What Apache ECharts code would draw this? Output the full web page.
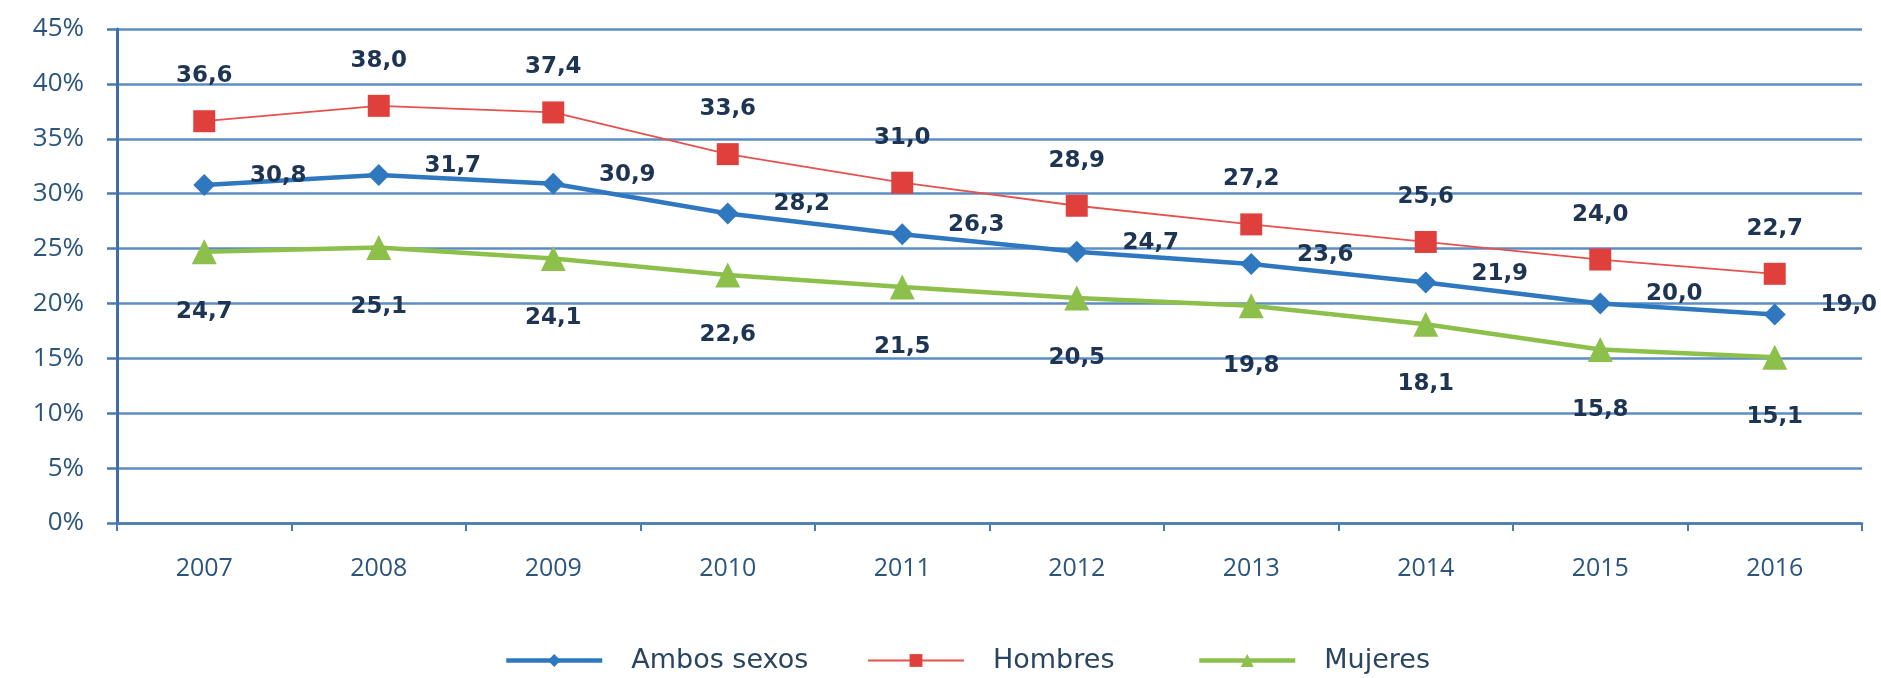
<!DOCTYPE html>
<html><head><meta charset="utf-8">
<script src="https://cdn.jsdelivr.net/npm/echarts@6/dist/echarts.min.js"></script>
<style>html,body{margin:0;padding:0;background:#fff}#c{width:1881px;height:678px}</style>
</head><body><div id="c"></div>
<script>
const categories = ['2007','2008','2009','2010','2011','2012','2013','2014','2015','2016'];
const ambos = [30.8, 31.7, 30.9, 28.2, 26.3, 24.7, 23.6, 21.9, 20.0, 19.0];
const hombres = [36.6, 38.0, 37.4, 33.6, 31.0, 28.9, 27.2, 25.6, 24.0, 22.7];
const mujeres = [24.7, 25.1, 24.1, 22.6, 21.5, 20.5, 19.8, 18.1, 15.8, 15.1];
const seriesNames = ['Ambos sexos', 'Hombres', 'Mujeres'];

const labelColor = '#1d3553';
const axisTextColor = '#2b557c';
const fmt = p => p.value.toFixed(1).replace('.', ',');
const lbl = (offset) => ({
  show: true, position: 'inside', offset: offset, formatter: fmt,
  fontFamily: 'DejaVu Sans', fontWeight: 'bold', fontSize: 23, color: labelColor
});

const chart = echarts.init(document.getElementById('c'));
const legendBase = {
  top: 642, itemWidth: 96, itemHeight: 16,
  textStyle: {fontFamily: 'DejaVu Sans', fontSize: 27, color: '#2a4560', padding: [0,0,0,24]}
};
chart.setOption({
  animation: false,
  backgroundColor: '#ffffff',
  grid: {left: 117, right: 19, top: 29, bottom: 155, containLabel: false},
  legend: [
    Object.assign({}, legendBase, {left: 499, data: [seriesNames[0]], lineStyle: {width: 4.5}}),
    Object.assign({}, legendBase, {left: 862, data: [seriesNames[1]], lineStyle: {width: 2}}),
    Object.assign({}, legendBase, {left: 1192, data: [seriesNames[2]], lineStyle: {width: 4.5}})
  ],
  xAxis: {
    type: 'category', data: categories, boundaryGap: true,
    axisLine: {lineStyle: {color: '#4a7bb0', width: 2.5}},
    axisTick: {show: true, length: 8, lineStyle: {color: '#4a7bb0', width: 2}},
    axisLabel: {margin: 33, fontFamily: 'Open Sans', fontSize: 25, color: axisTextColor}
  },
  yAxis: {
    type: 'value', min: 0, max: 45, interval: 5,
    axisLine: {show: true, lineStyle: {color: '#3f70a5', width: 3}},
    axisTick: {show: true, length: 10, lineStyle: {color: '#4a7bb0', width: 2.5}},
    axisLabel: {margin: 33, formatter: '{value}%', fontFamily: 'Open Sans', fontSize: 26, color: axisTextColor},
    splitLine: {lineStyle: {color: '#5b8cc4', width: 2.5}}
  },
  series: [
    {
      name: seriesNames[0], type: 'line', data: ambos, z: 4,
      symbol: 'diamond', symbolSize: 22,
      itemStyle: {color: '#2f78bf'}, lineStyle: {color: '#2f78bf', width: 4.5},
      label: lbl([74, -9])
    },
    {
      name: seriesNames[1], type: 'line', data: hombres, z: 3,
      symbol: 'rect', symbolSize: 22,
      itemStyle: {color: '#e0403c'}, lineStyle: {color: '#e5514d', width: 1.8},
      label: lbl([0, -45])
    },
    {
      name: seriesNames[2], type: 'line', data: mujeres, z: 3,
      symbol: 'triangle', symbolSize: 25,
      itemStyle: {color: '#8cc04a'}, lineStyle: {color: '#8cc04a', width: 4.5},
      label: lbl([0, 60])
    }
  ]
});
</script></body></html>
